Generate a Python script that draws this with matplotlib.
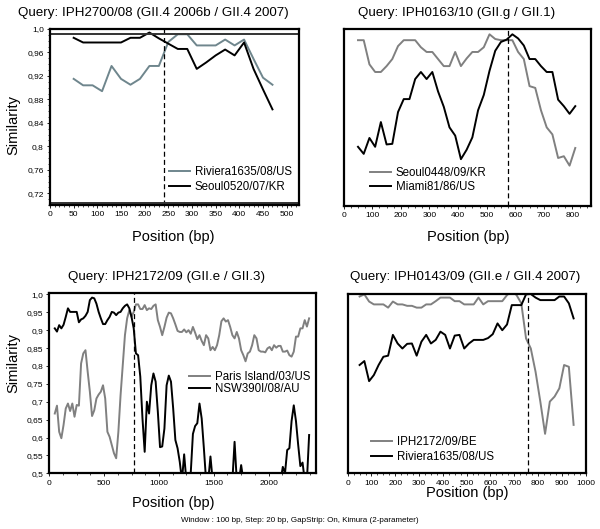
import numpy as np
import matplotlib
matplotlib.use("Agg")
import matplotlib.pyplot as plt
from matplotlib.ticker import FuncFormatter, MultipleLocator

plt.rcParams['font.family'] = ['Liberation Sans', 'DejaVu Sans']

GRAY = '#808080'
BLUEGRAY = '#6f868d'

# --- panel A: IPH2700/08 ---
pos_a = np.arange(50, 471, 20)
riviera_a = [0.915, 0.904, 0.904, 0.894, 0.937, 0.915, 0.905, 0.915, 0.937, 0.937,
             0.978, 0.991, 0.991, 0.972, 0.972, 0.972, 0.982, 0.972, 0.982, 0.949,
             0.917, 0.905]
seoul0520_a = [0.985, 0.977, 0.977, 0.977, 0.977, 0.977, 0.985, 0.985, 0.994, 0.984,
               0.975, 0.966, 0.966, 0.932, 0.943, 0.955, 0.965, 0.955, 0.977, 0.932,
               0.897, 0.863]
bp_a = 240

# --- panel B: IPH0163/10 ---
pos_b = np.arange(50, 811, 20)
seoul0448_b = [0.981, 0.981, 0.940, 0.927, 0.927, 0.937, 0.949, 0.971, 0.981, 0.981,
               0.981, 0.969, 0.961, 0.961, 0.949, 0.937, 0.937, 0.961, 0.937, 0.950,
               0.961, 0.961, 0.969, 0.991, 0.983, 0.981, 0.981, 0.981, 0.961, 0.949,
               0.903, 0.900, 0.862, 0.833, 0.821, 0.781, 0.784, 0.768, 0.798]
miami_b = [0.800, 0.788, 0.815, 0.800, 0.842, 0.804, 0.805, 0.859, 0.881, 0.881,
           0.915, 0.927, 0.915, 0.927, 0.894, 0.868, 0.833, 0.819, 0.779, 0.795,
           0.816, 0.862, 0.888, 0.929, 0.963, 0.978, 0.982, 0.991, 0.984, 0.972,
           0.949, 0.949, 0.937, 0.927, 0.927, 0.880, 0.869, 0.856, 0.869]
bp_b = 573

# --- panel C: IPH2172/09 ---
pos_c = np.arange(50, 2371, 20)
paris_c = [0.667, 0.689, 0.616, 0.598, 0.635, 0.681, 0.695, 0.674, 0.695, 0.658,
           0.691, 0.689, 0.807, 0.835, 0.844, 0.784, 0.728, 0.660, 0.676, 0.709,
           0.720, 0.728, 0.746, 0.709, 0.616, 0.602, 0.579, 0.556, 0.542, 0.616,
           0.718, 0.802, 0.886, 0.933, 0.956, 0.937, 0.951, 0.972, 0.972, 0.959,
           0.959, 0.970, 0.956, 0.961, 0.959, 0.968, 0.972, 0.928, 0.909, 0.886,
           0.909, 0.935, 0.949, 0.947, 0.933, 0.916, 0.898, 0.895, 0.895, 0.902,
           0.894, 0.900, 0.890, 0.909, 0.893, 0.875, 0.886, 0.870, 0.858, 0.886,
           0.877, 0.844, 0.853, 0.844, 0.858, 0.886, 0.925, 0.933, 0.924, 0.928,
           0.909, 0.886, 0.877, 0.895, 0.877, 0.844, 0.830, 0.813, 0.835, 0.840,
           0.858, 0.886, 0.877, 0.844, 0.840, 0.840, 0.838, 0.849, 0.853, 0.844,
           0.858, 0.851, 0.856, 0.856, 0.840, 0.840, 0.843, 0.830, 0.826, 0.840,
           0.882, 0.882, 0.905, 0.905, 0.928, 0.910, 0.933]
nsw_c = [0.905, 0.896, 0.914, 0.905, 0.915, 0.937, 0.961, 0.951, 0.951, 0.951,
         0.951, 0.922, 0.930, 0.933, 0.940, 0.951, 0.984, 0.991, 0.989, 0.974,
         0.951, 0.933, 0.917, 0.917, 0.928, 0.937, 0.951, 0.949, 0.942, 0.949,
         0.951, 0.961, 0.968, 0.972, 0.961, 0.937, 0.905, 0.835, 0.830, 0.770,
         0.653, 0.560, 0.700, 0.667, 0.746, 0.779, 0.756, 0.672, 0.573, 0.575,
         0.625, 0.746, 0.773, 0.756, 0.681, 0.593, 0.570, 0.532, 0.480, 0.553,
         0.480, 0.480, 0.500, 0.610, 0.632, 0.640, 0.695, 0.653, 0.570, 0.480,
         0.480, 0.547, 0.480, 0.480, 0.480, 0.480, 0.480, 0.480, 0.480, 0.480,
         0.480, 0.480, 0.588, 0.480, 0.480, 0.523, 0.480, 0.480, 0.480, 0.480,
         0.480, 0.480, 0.480, 0.480, 0.480, 0.480, 0.480, 0.480, 0.480, 0.480,
         0.480, 0.480, 0.480, 0.480, 0.518, 0.500, 0.565, 0.570, 0.646, 0.690,
         0.646, 0.580, 0.520, 0.530, 0.480, 0.480, 0.607]
bp_c = 772

# --- panel D: IPH0143/09 ---
pos_d = np.arange(50, 951, 20)
iph2172_d = [0.993, 0.999, 0.979, 0.971, 0.971, 0.971, 0.962, 0.979, 0.971, 0.971,
             0.967, 0.967, 0.962, 0.962, 0.971, 0.971, 0.980, 0.990, 0.990, 0.990,
             0.980, 0.980, 0.971, 0.971, 0.971, 0.990, 0.971, 0.980, 0.980, 0.980,
             0.980, 0.997, 1.008, 0.997, 0.974, 0.876, 0.848, 0.783, 0.700, 0.610,
             0.700, 0.714, 0.737, 0.802, 0.797, 0.635]
riviera_d = [0.802, 0.813, 0.757, 0.774, 0.802, 0.825, 0.828, 0.886, 0.862, 0.848,
             0.861, 0.862, 0.828, 0.867, 0.886, 0.862, 0.872, 0.895, 0.886, 0.848,
             0.884, 0.886, 0.848, 0.862, 0.872, 0.872, 0.872, 0.877, 0.888, 0.918,
             0.899, 0.915, 0.969, 0.969, 0.969, 0.999, 1.000, 0.990, 0.983, 0.983,
             0.983, 0.983, 0.993, 0.993, 0.974, 0.932]
bp_d = 757


def comma_fmt(v, pos):
    s = f"{v:.2f}".rstrip('0')
    if s.endswith('.'):
        s += '0'
    return s.replace('.', ',')


W, H = 600, 529
fig = plt.figure(figsize=(6.0, 5.29), dpi=100)


def box(l, t, r, b):
    return [l / W, 1 - b / H, (r - l) / W, (b - t) / H]


def style(ax, xmaj, xmin):
    for s in ax.spines.values():
        s.set_linewidth(1.6)
    ax.xaxis.set_major_locator(MultipleLocator(xmaj))
    ax.xaxis.set_minor_locator(MultipleLocator(xmin))
    ax.tick_params(axis='both', which='major', labelsize=6, length=2.5, width=0.6, pad=2)
    ax.tick_params(axis='both', which='minor', length=1.5, width=0.5)


leg_kw = dict(frameon=False, fontsize=8.3, handlelength=1.8, handletextpad=0.4,
              borderaxespad=0.2)

ax1 = fig.add_axes(box(50, 29, 298.5, 205))
ax1.plot(pos_a, riviera_a, color=BLUEGRAY, lw=1.4, label='Riviera1635/08/US')
ax1.plot(pos_a, seoul0520_a, color='k', lw=1.4, label='Seoul0520/07/KR')
ax1.axvline(bp_a, color='k', lw=0.9, ls=(0, (4, 2.5)))
ax1.axhline(0.992, color='#333333', lw=1.4)
ax1.axhline(0.704, color='#333333', lw=1.4)
ax1.set_xlim(0, 525)
ax1.set_ylim(0.70, 1.0)
style(ax1, 50, 10)
ax1.set_yticks([0.72, 0.76, 0.80, 0.84, 0.88, 0.92, 0.96, 1.0])
ax1.yaxis.set_minor_locator(MultipleLocator(0.01))
ax1.yaxis.set_major_formatter(FuncFormatter(comma_fmt))
ax1.legend(loc='lower right', bbox_to_anchor=(1.0, 0.03), labelspacing=0.25, **leg_kw)

ax2 = fig.add_axes(box(343.7, 29, 591, 205.7))
ax2.plot(pos_b, seoul0448_b, color=GRAY, lw=1.4, label='Seoul0448/09/KR')
ax2.plot(pos_b, miami_b, color='k', lw=1.4, label='Miami81/86/US')
ax2.axvline(bp_b, color='k', lw=0.9, ls=(0, (4, 2.5)))
ax2.set_xlim(0, 865)
ax2.set_ylim(0.70, 1.0)
style(ax2, 100, 25)
ax2.set_yticks([])
ax2.legend(loc='lower left', bbox_to_anchor=(0.08, 0.03), labelspacing=0.2, **leg_kw)

ax3 = fig.add_axes(box(49.3, 293.3, 315.7, 473.3))
ax3.plot(pos_c, paris_c, color=GRAY, lw=1.4, label='Paris Island/03/US')
ax3.plot(pos_c, nsw_c, color='k', lw=1.4, label='NSW390I/08/AU')
ax3.axvline(bp_c, color='k', lw=0.9, ls=(0, (4, 2.5)))
ax3.set_xlim(0, 2430)
ax3.set_ylim(0.5, 1.003)
style(ax3, 500, 125)
ax3.set_yticks(np.arange(0.5, 1.001, 0.05))
ax3.yaxis.set_major_formatter(FuncFormatter(comma_fmt))
ax3.legend(loc='center left', bbox_to_anchor=(0.5, 0.5), labelspacing=0.0, **leg_kw)

ax4 = fig.add_axes(box(347.7, 294, 585.5, 473.3))
ax4.plot(pos_d, iph2172_d, color=GRAY, lw=1.4, label='IPH2172/09/BE')
ax4.plot(pos_d, riviera_d, color='k', lw=1.4, label='Riviera1635/08/US')
ax4.axvline(bp_d, color='k', lw=0.9, ls=(0, (4, 2.5)))
ax4.set_xlim(0, 1000)
ax4.set_ylim(0.5, 1.0)
style(ax4, 100, 25)
ax4.set_yticks([])
ax4.legend(loc='lower left', bbox_to_anchor=(0.07, 0.02), labelspacing=0.2, **leg_kw)


def ftext(x, y, s, **kw):
    fig.text(x / W, 1 - y / H, s, ha='center', va='center', **kw)


ftext(153, 13, 'Query: IPH2700/08 (GII.4 2006b / GII.4 2007)', fontsize=9.6)
ftext(457, 13, 'Query: IPH0163/10 (GII.g / GII.1)', fontsize=9.6)
ftext(167, 277, 'Query: IPH2172/09 (GII.e / GII.3)', fontsize=9.6)
ftext(465, 277, 'Query: IPH0143/09 (GII.e / GII.4 2007)', fontsize=9.6)

ftext(173, 237, 'Position (bp)', fontsize=10.5)
ftext(468, 237, 'Position (bp)', fontsize=10.5)
ftext(173, 503, 'Position (bp)', fontsize=10.5)
ftext(467, 493, 'Position (bp)', fontsize=10.5)

ftext(13, 125, 'Similarity', fontsize=10.5, rotation=90)
ftext(13, 363, 'Similarity', fontsize=10.5, rotation=90)

ftext(300, 520, 'Window : 100 bp, Step: 20 bp, GapStrip: On, Kimura (2-parameter)', fontsize=5.8)

fig.savefig('out.png', dpi=100)
